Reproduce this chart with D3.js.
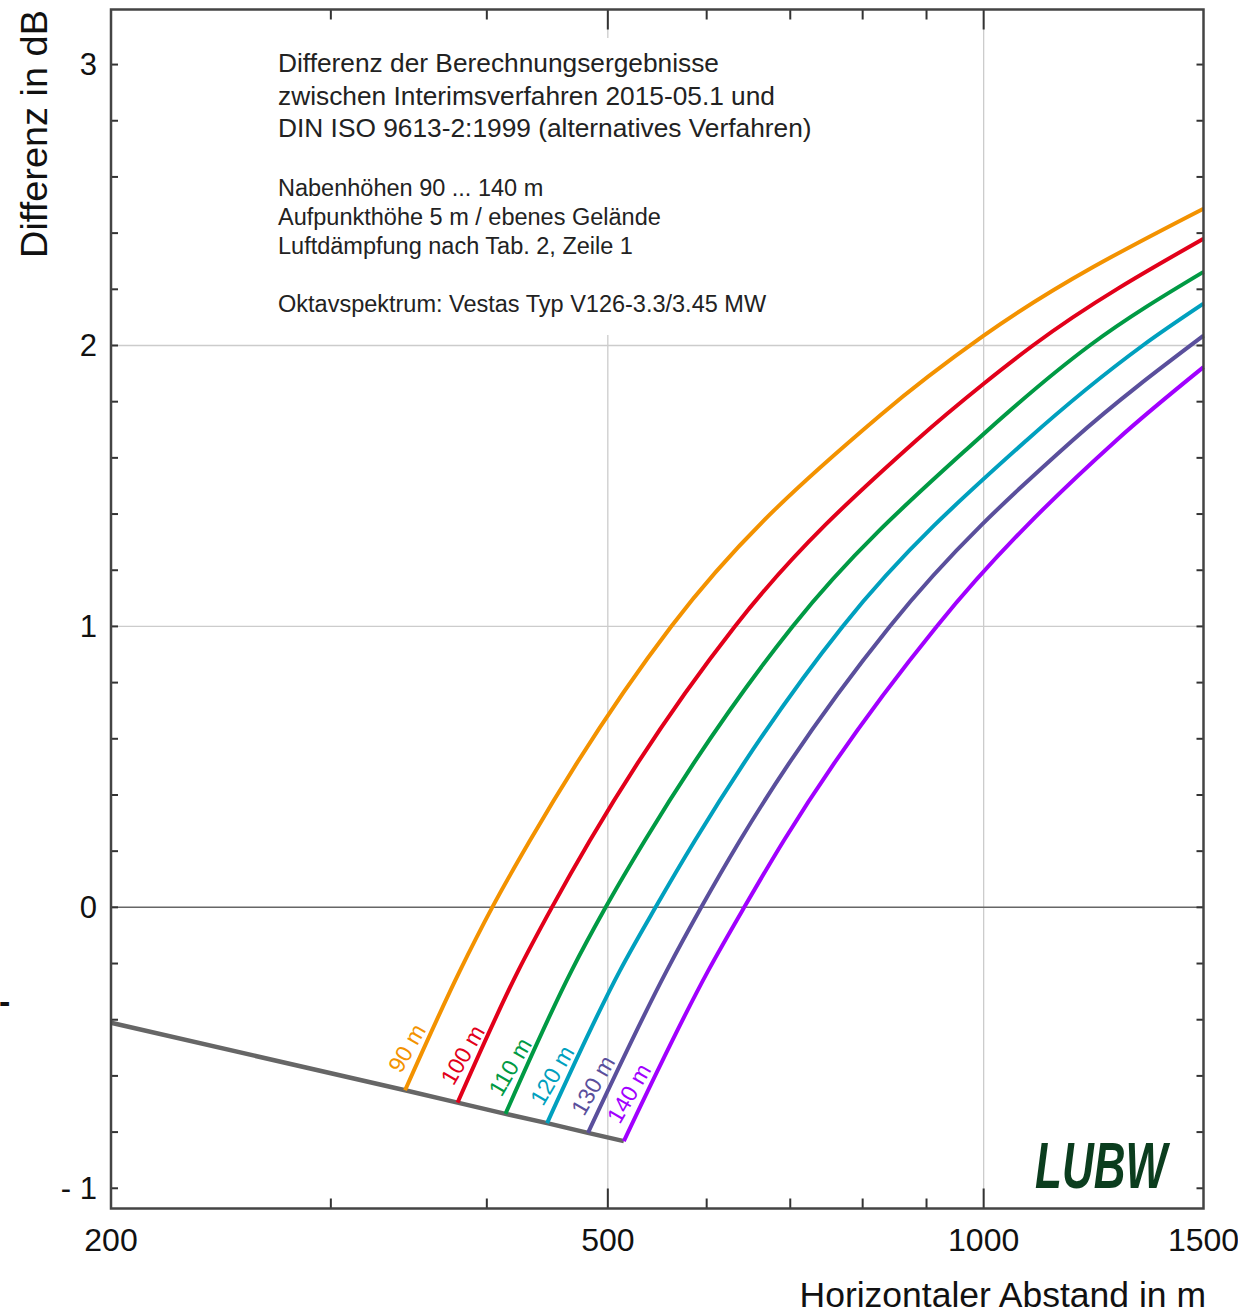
<!DOCTYPE html>
<html>
<head>
<meta charset="utf-8">
<script src="https://cdn.jsdelivr.net/npm/d3@7"></script>
<style>
  body { margin: 0; background: #fff; }
  text { font-family: "Liberation Sans", Arial, sans-serif; }
</style>
</head>
<body>
<div id="chart"></div>
<script>
// hub heights and their colours
const heights = [90, 100, 110, 120, 130, 140];
const hubLabels = ["90 m", "100 m", "110 m", "120 m", "130 m", "140 m"];
const colors = ["#F39200", "#E2001A", "#009A44", "#00A0BE", "#5A4F9C", "#A100FF"];

// curves: [distance in m, difference in dB], first point sits on the grey line
const curve90 = [[344, -0.651], [380.6, -0.226], [404, 0], [433, 0.237], [562, 1.0], [826, 1.751], [1000, 2.035], [1500, 2.487]];
const curve100 = [[379, -0.695], [423.8, -0.226], [451, 0], [483.6, 0.237], [632, 1.0], [883, 1.662], [1000, 1.864], [1095, 2.0], [1500, 2.380]];
const curve110 = [[414, -0.735], [467.6, -0.226], [498, 0], [535.2, 0.237], [703, 1.0], [986.7, 1.662], [1216, 2.0], [1500, 2.262]];
const curve120 = [[447, -0.768], [511.2, -0.226], [546, 0], [587, 0.237], [771, 1.0], [1082, 1.662], [1341, 2.0], [1500, 2.149]];
const curve130 = [[482, -0.803], [557.3, -0.226], [594, 0], [637.8, 0.237], [841, 1.0], [1178, 1.662], [1500, 2.035]];
const curve140 = [[515, -0.832], [601.6, -0.226], [643, 0], [691.6, 0.237], [917, 1.0], [1277, 1.662], [1500, 1.923]];
const curves = [curve90, curve100, curve110, curve120, curve130, curve140];

// grey base line: left end, then the curve starts
const baseStart = [200, -0.411];

// ticks
const xLabels = [200, 500, 1000, 1500];
const xMajor = [500, 1000];
const xMinor = [300, 400, 600, 700, 800, 900];
const yLabels = [-1, 0, 1, 2, 3];
const yMinor = d3.range(-1, 3.01, 0.2);
const yGrid = [1, 2];

const noteLines1 = [
  "Differenz der Berechnungsergebnisse",
  "zwischen Interimsverfahren 2015-05.1 und",
  "DIN ISO 9613-2:1999 (alternatives Verfahren)"
];
const noteLines2 = [
  "Nabenhöhen 90 ... 140 m",
  "Aufpunkthöhe 5 m / ebenes Gelände",
  "Luftdämpfung nach Tab. 2, Zeile 1",
  "",
  "Oktavspektrum: Vestas Typ V126-3.3/3.45 MW"
];

(function () {
  const width = 1238;
  const height = 1315;
  const left = 111, right = 1203.5, top = 9.5, bottom = 1208.5;

  const svg = d3.select("#chart").append("svg")
    .attr("width", width)
    .attr("height", height);

  const x = d3.scaleLog().domain([200, 1500]).range([left, right]);
  const y = d3.scaleLinear().domain([-1.072, 3.196]).range([bottom, top]);

  // grid lines
  svg.append("g").selectAll("line")
    .data(yGrid)
    .enter().append("line")
      .attr("x1", left).attr("x2", right)
      .attr("y1", d => y(d)).attr("y2", d => y(d))
      .attr("stroke", "#cccccc").attr("stroke-width", 1.3);

  svg.append("g").selectAll("line")
    .data(xMajor)
    .enter().append("line")
      .attr("x1", d => x(d)).attr("x2", d => x(d))
      .attr("y1", top).attr("y2", bottom)
      .attr("stroke", "#cccccc").attr("stroke-width", 1.3);

  // zero line
  svg.append("line")
    .attr("x1", left).attr("x2", right)
    .attr("y1", y(0)).attr("y2", y(0))
    .attr("stroke", "#666").attr("stroke-width", 1.5);

  // white box behind the note
  svg.append("rect")
    .attr("x", 268).attr("y", 38)
    .attr("width", 565).attr("height", 297)
    .attr("fill", "#fff");

  const note = svg.append("g").attr("fill", "#222");
  note.selectAll("text.n1")
    .data(noteLines1)
    .enter().append("text")
      .attr("class", "n1")
      .attr("x", 278)
      .attr("y", (d, i) => 72 + i * 32.5)
      .attr("font-size", 26.3)
      .text(d => d);
  note.selectAll("text.n2")
    .data(noteLines2)
    .enter().append("text")
      .attr("class", "n2")
      .attr("x", 278)
      .attr("y", (d, i) => 196 + i * 29)
      .attr("font-size", 23.5)
      .text(d => d);

  // grey base line
  const line = d3.line()
    .x(d => x(d[0]))
    .y(d => y(d[1]));

  const baseLine = [baseStart].concat(curves.map(c => c[0]));
  svg.append("path")
    .datum(baseLine)
    .attr("d", line)
    .attr("fill", "none")
    .attr("stroke", "#666")
    .attr("stroke-width", 4.5);

  // curves per hub height
  const smooth = d3.line()
    .x(d => x(d[0]))
    .y(d => y(d[1]))
    .curve(d3.curveMonotoneX);

  svg.append("g").selectAll("path")
    .data(curves)
    .enter().append("path")
      .attr("d", smooth)
      .attr("fill", "none")
      .attr("stroke", (d, i) => colors[i])
      .attr("stroke-width", 4);

  // rotated labels at the start of each curve
  svg.append("g").selectAll("text")
    .data(curves)
    .enter().append("text")
      .attr("transform", d => "translate(" + (x(d[0][0]) - 4) + "," + (y(d[0][1]) - 16) + ") rotate(-60)")
      .attr("font-size", 23)
      .attr("fill", (d, i) => colors[i])
      .text((d, i) => hubLabels[i]);

  // ticks on all four sides, inward
  const ticks = svg.append("g").attr("stroke", "#333").attr("stroke-width", 2);
  [[xMajor, 20], [xMinor, 10]].forEach(([vals, len]) => {
    ticks.selectAll(null).data(vals).enter().append("line")
      .attr("x1", d => x(d)).attr("x2", d => x(d))
      .attr("y1", bottom).attr("y2", bottom - len);
    ticks.selectAll(null).data(vals).enter().append("line")
      .attr("x1", d => x(d)).attr("x2", d => x(d))
      .attr("y1", top).attr("y2", top + len);
  });
  ticks.selectAll(null).data(yMinor).enter().append("line")
    .attr("x1", left).attr("x2", left + 7)
    .attr("y1", d => y(d)).attr("y2", d => y(d));
  ticks.selectAll(null).data(yMinor).enter().append("line")
    .attr("x1", right).attr("x2", right - 7)
    .attr("y1", d => y(d)).attr("y2", d => y(d));

  // frame
  svg.append("rect")
    .attr("x", left).attr("y", top)
    .attr("width", right - left).attr("height", bottom - top)
    .attr("fill", "none")
    .attr("stroke", "#444")
    .attr("stroke-width", 2.5);

  // tick labels
  svg.append("g").selectAll("text")
    .data(xLabels)
    .enter().append("text")
      .attr("x", d => x(d))
      .attr("y", 1251)
      .attr("text-anchor", "middle")
      .attr("font-size", 32)
      .attr("fill", "#111")
      .text(d => d);

  svg.append("g").selectAll("text")
    .data(yLabels)
    .enter().append("text")
      .attr("x", 97)
      .attr("y", d => y(d) + 10.5)
      .attr("text-anchor", "end")
      .attr("font-size", 31)
      .attr("fill", "#111")
      .text(d => d < 0 ? "- " + Math.abs(d) : d);

  // axis titles
  svg.append("text")
    .attr("transform", "translate(47,10) rotate(-90)")
    .attr("text-anchor", "end")
    .attr("font-size", 37)
    .attr("textLength", 248)
    .attr("lengthAdjust", "spacingAndGlyphs")
    .attr("fill", "#111")
    .text("Differenz in dB");

  svg.append("text")
    .attr("x", 1206)
    .attr("y", 1307)
    .attr("text-anchor", "end")
    .attr("font-size", 35.5)
    .attr("fill", "#111")
    .text("Horizontaler Abstand in m");

  // LUBW logo
  svg.append("text")
    .attr("x", 1035)
    .attr("y", 1188)
    .attr("font-size", 64)
    .attr("font-weight", "bold")
    .attr("font-style", "italic")
    .attr("font-family", "'Liberation Sans Narrow', 'Liberation Sans', sans-serif")
    .attr("textLength", 132)
    .attr("lengthAdjust", "spacingAndGlyphs")
    .attr("fill", "#0B3D1E")
    .text("LUBW");

  // stray mark at the left edge
  svg.append("text")
    .attr("x", -1)
    .attr("y", 1013)
    .attr("font-size", 34)
    .attr("font-weight", "bold")
    .attr("fill", "#111")
    .text("-");
})();
</script>
</body>
</html>
